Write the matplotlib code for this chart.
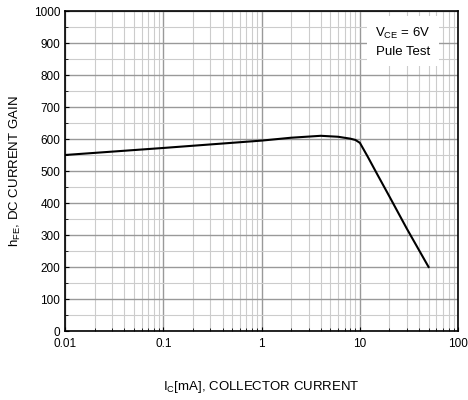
import matplotlib.pyplot as plt
import numpy as np
from matplotlib.ticker import LogLocator, MultipleLocator, FixedLocator

plt.rcParams['font.family'] = ['Liberation Sans', 'DejaVu Sans']

# collector current [mA] and DC current gain
ic = [0.01, 0.1, 1, 2, 4, 6, 8, 9, 10, 12, 15, 20, 30, 50]
hfe = [550, 572, 595, 604, 610, 607, 601, 597, 588, 545, 490, 420, 320, 200]

xticks = [0.01, 0.1, 1, 10, 100]
xticklabels = ['0.01', '0.1', '1', '10', '100']

fig = plt.figure(figsize=(4.68, 4.0), dpi=100)
ax = fig.add_axes([0.139, 0.1725, 0.840, 0.80])

ax.plot(ic, hfe, color='black', lw=1.5, zorder=3)

ax.set_xscale('log')
ax.set_xlim(0.01, 100)
ax.set_ylim(0, 1000)
ax.xaxis.set_major_locator(FixedLocator(xticks))
ax.set_xticklabels(xticklabels)
ax.xaxis.set_minor_locator(LogLocator(base=10, subs=np.arange(2, 10)))
ax.yaxis.set_major_locator(MultipleLocator(100))
ax.yaxis.set_minor_locator(MultipleLocator(50))

ax.grid(which='major', color='#999999', lw=1.0)
ax.grid(which='minor', color='#cccccc', lw=0.8)
ax.tick_params(which='both', direction='in', labelsize=8.5, length=3)
ax.tick_params(axis='x', pad=5)
ax.tick_params(which='minor', labelbottom=False, length=2)
for s in ax.spines.values():
    s.set_linewidth(1.2)

ax.set_xlabel('I$_\\mathregular{C}$[mA], COLLECTOR CURRENT', fontsize=9.5, labelpad=21)
ax.set_ylabel('h$_\\mathregular{FE}$, DC CURRENT GAIN', fontsize=9.5, labelpad=8)

ax.text(0.93, 0.955, 'V$_\\mathregular{CE}$ = 6V\nPule Test', transform=ax.transAxes,
        ha='right', va='top', fontsize=9.5, linespacing=1.6,
        bbox=dict(facecolor='white', edgecolor='none', pad=6), zorder=4)

fig.savefig('out.png', dpi=100)
